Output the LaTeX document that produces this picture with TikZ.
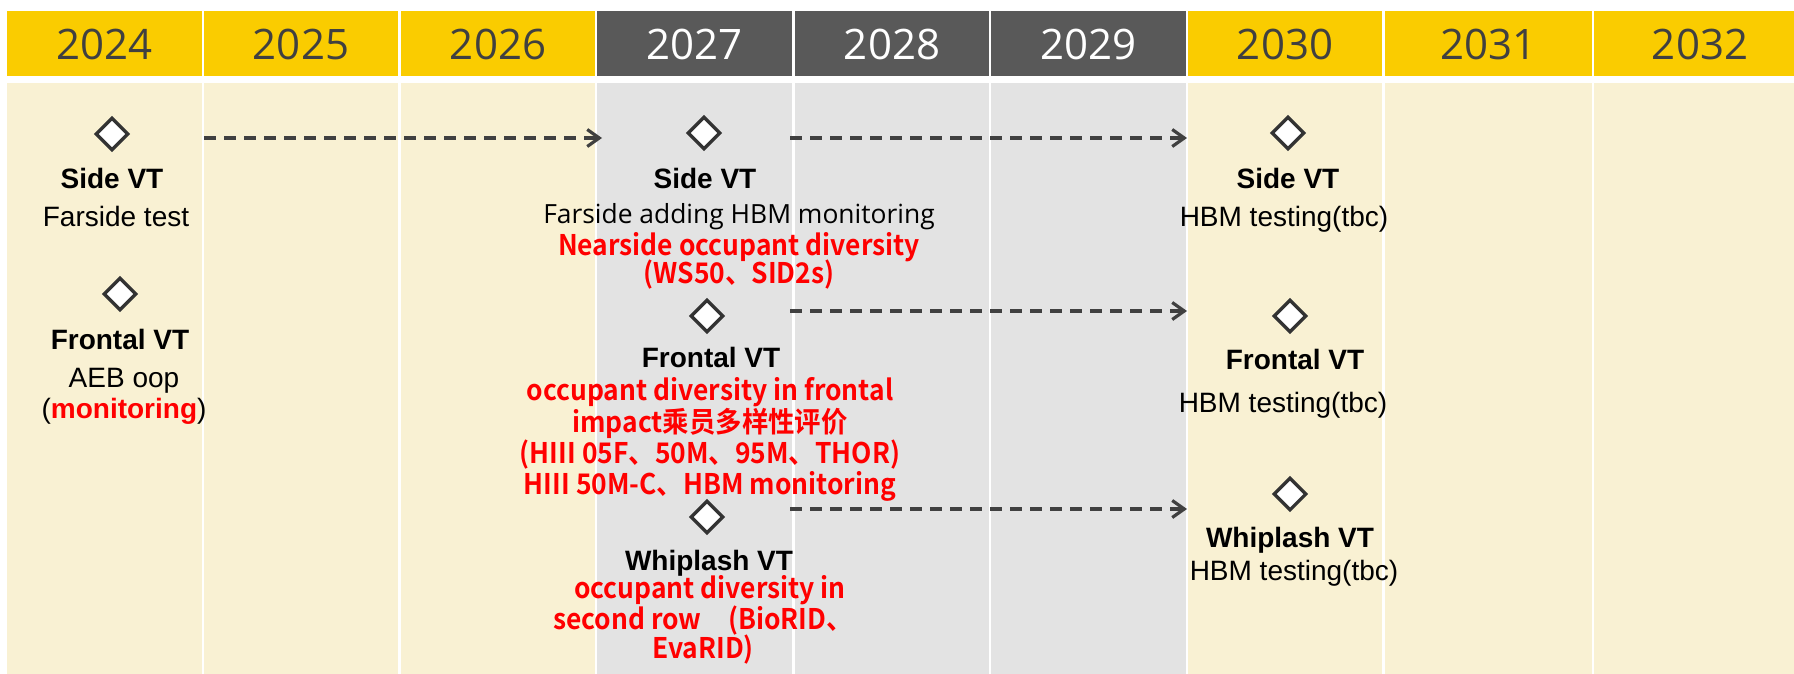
\documentclass[tikz,border=0pt]{standalone}
\usepackage{fontspec}
\usetikzlibrary{shapes.geometric,arrows.meta}
\setmainfont{Liberation Sans}
\newfontfamily\yearfont{Open Sans}
\newfontfamily\osfont{Open Sans}
\newfontfamily\redfont{Noto Sans CJK SC}[BoldFont={Noto Sans CJK SC Bold},FakeStretch=0.93]
\definecolor{hy}{RGB}{250,204,0}
\definecolor{hd}{RGB}{89,89,89}
\definecolor{by}{RGB}{249,241,211}
\definecolor{bg}{RGB}{227,227,227}
\definecolor{yt}{RGB}{64,64,64}
\definecolor{ln}{RGB}{64,64,64}
\definecolor{dm}{RGB}{51,51,51}
\definecolor{rd}{RGB}{255,0,0}
\tikzset{
  yrlab/.style={anchor=base,inner sep=0pt,font=\yearfont\fontsize{21}{25}\selectfont},
  ms/.style={diamond,draw=dm,fill=white,line width=1.65pt,inner sep=0pt,minimum width=16.5pt,minimum height=16.5pt},
  ttl/.style={anchor=base,inner sep=0pt,font=\fontsize{14}{16}\selectfont\bfseries},
  txt/.style={anchor=base,inner sep=0pt,font=\fontsize{14}{16}\selectfont},
  ostxt/.style={anchor=base,inner sep=0pt,font=\osfont\fontsize{13.2}{16}\selectfont},
  rtxt/.style={anchor=base,inner sep=0pt,text=rd,font=\redfont\bfseries\fontsize{14.2}{16}\selectfont},
  flow/.style={draw=ln,line width=1.6pt,dash pattern=on 6pt off 4pt,-{Straight Barb[length=6pt,width=8.5pt]}}
}
\begin{document}
\begin{tikzpicture}[x=0.5pt,y=-0.5pt]
\useasboundingbox (0,0) rectangle (1794,674);
\fill[white] (0,0) rectangle (1794,674);
% header and body columns
\foreach \l/\r/\c/\b in {7/202/hy/by,204/398/hy/by,401/595/hy/by,597/792/hd/bg,795/989/hd/bg,991/1186/hd/bg,1188/1382/hy/by,1385/1592/hy/by,1594/1794/hy/by}{
  \fill[\c] (\l,11) rectangle (\r,76);
  \fill[\b] (\l,83) rectangle (\r,674);
}
% years
\foreach \x/\yr in {104.5/2024,301/2025,498/2026,1285/2030,1488.5/2031,1700/2032}{
  \node[yrlab,text=yt] (y\yr) at (\x,60) {\yr};
}
\foreach \x/\yr in {694.5/2027,892/2028,1088.5/2029}{
  \node[yrlab,text=white] (y\yr) at (\x,60) {\yr};
}
% left column
\node[ms] (d1) at (112,134) {};
\node[ttl] (t1) at (112,188) {Side VT};
\node[txt] (s1) at (116,226) {Farside test};
\node[ms] (d2) at (120,294) {};
\node[ttl] (t2) at (120,349) {Frontal VT};
\node[txt] (s2) at (124,387) {AEB oop};
\node[txt] (s2b) at (124,418) {(\textcolor{rd}{\bfseries monitoring})};
% middle column
\node[ms] (d3) at (704,133) {};
\node[ttl] (t3) at (705,189) {Side VT};
\node[ostxt] (s3) at (739,223) {Farside adding HBM monitoring};
\node[rtxt] (r3a) at (739,255) {Nearside occupant diversity};
\node[rtxt] (r3b) at (739,283) {(WS50、SID2s)};
\node[ms] (d4) at (707,316) {};
\node[ttl] (t4) at (711,367) {Frontal VT};
\node[rtxt] (r4a) at (710,400) {occupant diversity in frontal};
\node[rtxt] (r4b) at (710,432) {impact乘员多样性评价};
\node[rtxt] (r4c) at (710,463) {(HIII 05F、50M、95M、THOR)};
\node[rtxt] (r4d) at (710,494) {HIII 50M-C、HBM monitoring};
\node[ms] (d5) at (707,517) {};
\node[ttl] (t5) at (709,570) {Whiplash VT};
\node[rtxt] (r5a) at (710,598) {occupant diversity in};
\node[rtxt] (r5b) at (703,629) {second row　(BioRID、};
\node[rtxt] (r5c) at (703,658) {EvaRID)};
% right column
\node[ms] (d6) at (1288,133) {};
\node[ttl] (t6) at (1288,189) {Side VT};
\node[txt] (s6) at (1284,226) {HBM testing(tbc)};
\node[ms] (d7) at (1290,316) {};
\node[ttl] (t7) at (1295,369) {Frontal VT};
\node[txt] (s7) at (1283,412) {HBM testing(tbc)};
\node[ms] (d8) at (1290,494) {};
\node[ttl] (t8) at (1290,547) {Whiplash VT};
\node[txt] (s8) at (1294,580) {HBM testing(tbc)};
% arrows
\coordinate (a1s) at (204,138);
\coordinate (a1e) at (602,138);
\coordinate (a2s) at (790,138);
\coordinate (a2e) at (1187,138);
\coordinate (a3s) at (790,311);
\coordinate (a3e) at (1187,311);
\coordinate (a4s) at (790,509);
\coordinate (a4e) at (1187,509);
\draw[flow] (a1s) -- (a1e);
\draw[flow] (a2s) -- (a2e);
\draw[flow] (a3s) -- (a3e);
\draw[flow] (a4s) -- (a4e);
\end{tikzpicture}
\end{document}
